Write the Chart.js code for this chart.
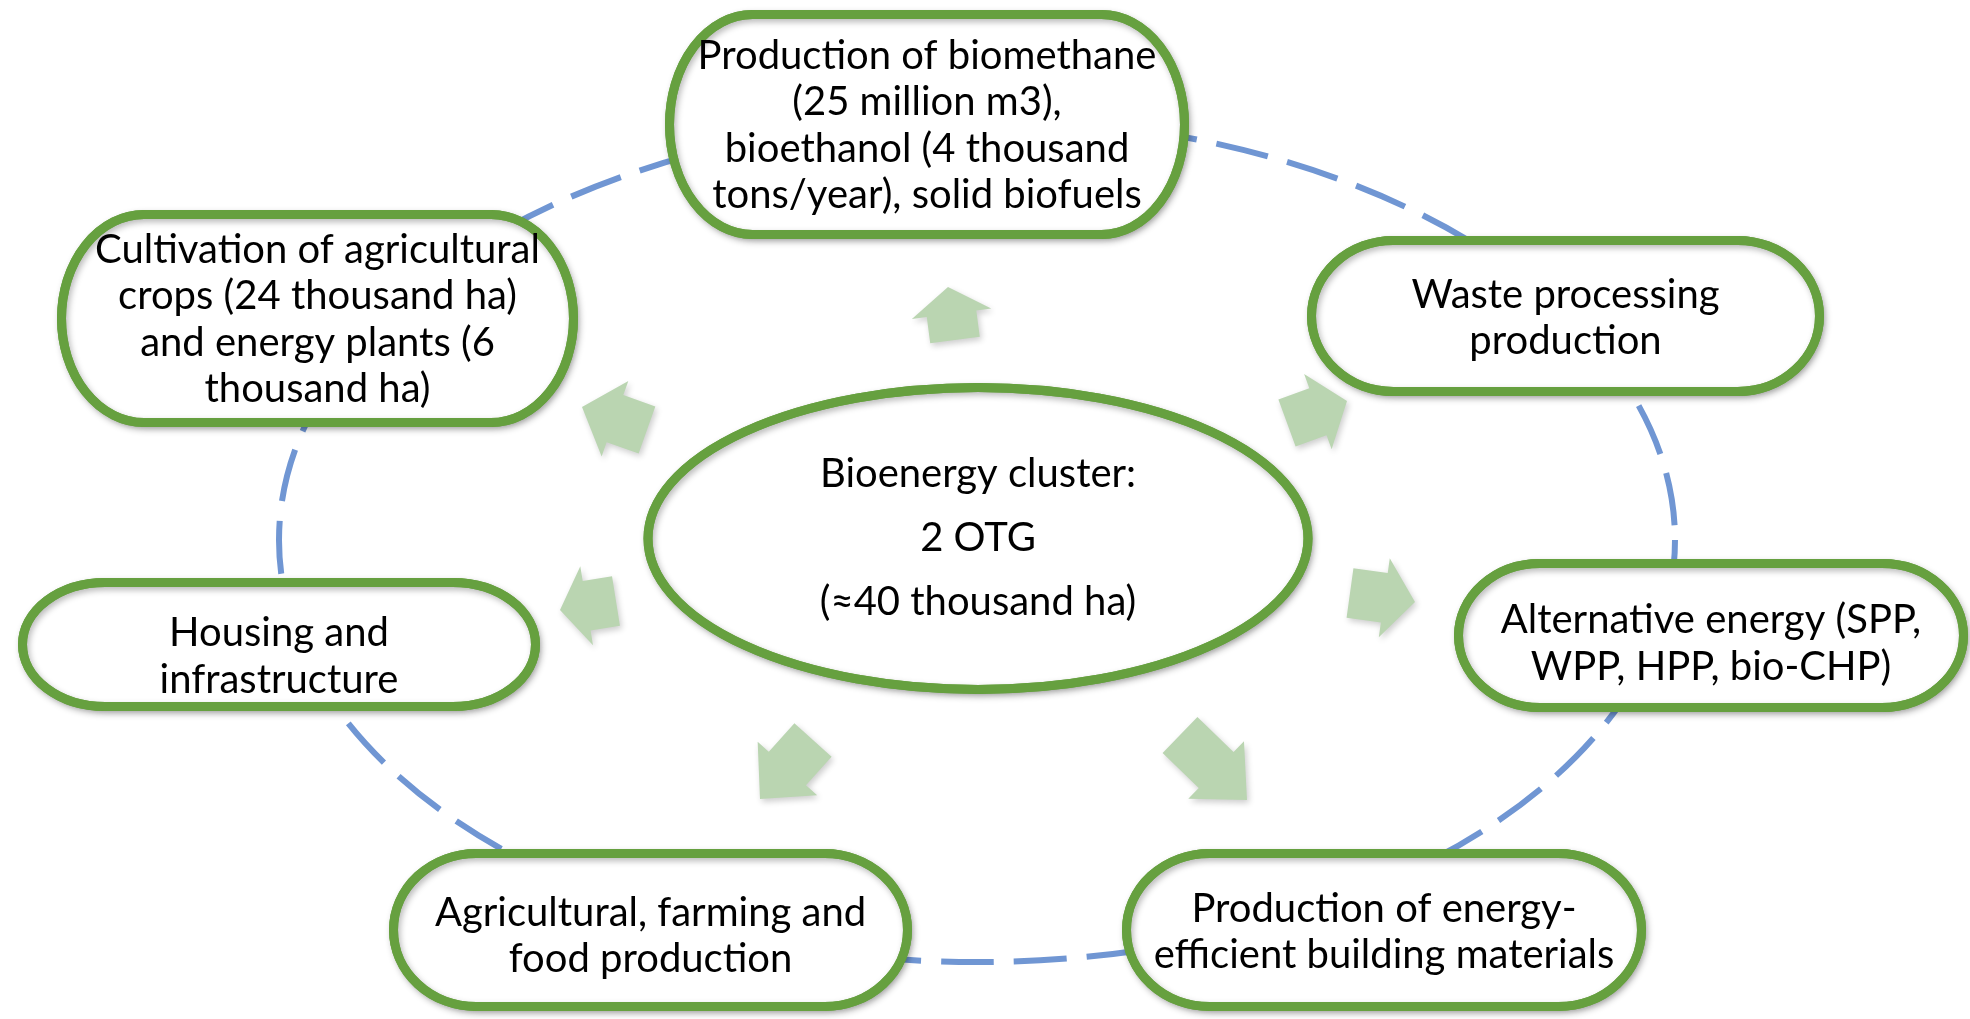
<!DOCTYPE html>
<html lang="en">
<head>
<meta charset="UTF-8">
<title>Bioenergy cluster</title>
<script src="https://cdn.jsdelivr.net/npm/chart.js"></script>
<style>
    html, body { margin: 0; padding: 0; background: #fff; }
    canvas { display: block; }
</style>
</head>
<body>
<canvas id="cluster" width="1970" height="1019"></canvas>

<script>
    // node texts
    const nodeLabels = [
        ['Production of biomethane', '(25 million m3),', 'bioethanol (4 thousand', 'tons/year), solid biofuels'],
        ['Cultivation of agricultural', 'crops (24 thousand ha)', 'and energy plants (6', 'thousand ha)'],
        ['Waste processing', 'production'],
        ['Housing and', 'infrastructure'],
        ['Alternative energy (SPP,', 'WPP, HPP, bio-CHP)'],
        ['Agricultural, farming and', 'food production'],
        ['Production of energy-', 'efficient building materials']
    ];
    const hubLabels = ['Bioenergy cluster:', '2 OTG', '(≈40 thousand ha)'];

    // node centres (diagram units)
    const nodeX = [927, 317.5, 1565.5, 279, 1711, 650.5, 1384];
    const nodeY = [124.5, 318.5, 316, 644.5, 635.5, 930, 930];
    const hubX = [978];
    const hubY = [538.5];

    // arrows: tip and tail points
    const arrowTipX = [948, 582, 1347, 560, 1415, 760, 1247];
    const arrowTipY = [287, 407, 401, 610, 602, 799, 800];
    const arrowTailX = [955, 647, 1287, 616, 1350, 813, 1180];
    const arrowTailY = [340, 430, 423, 601, 593, 740, 735];

    // layout (sizes, text nudges)
    const nodeW = [515, 512, 508, 513, 505, 514, 515];
    const nodeH = [220, 208, 151, 124, 144, 153, 153];
    const textShift = [1, 1, 2, 12, 8, 6, 2];
    const arrowHeadLen = [27, 35, 31, 27, 31, 41, 43];
    const ring = { cx: 977, cy: 540, rx: 698, ry: 422 };
    const hubR = { rx: 330, ry: 151 };

    const GREEN = '#66a03f';
    const BLUE = '#7096d3';
    const ARROW = '#bad5b1';
    const FONT = '40px Lato';

    function terminator(ctx, cx, cy, w, h) {
        const rx = w * 0.161, ry = h / 2;
        const l = cx - w / 2, r = cx + w / 2, t = cy - h / 2, b = cy + h / 2;
        ctx.beginPath();
        ctx.moveTo(l + rx, t);
        ctx.lineTo(r - rx, t);
        ctx.ellipse(r - rx, cy, rx, ry, 0, -Math.PI / 2, Math.PI / 2);
        ctx.lineTo(l + rx, b);
        ctx.ellipse(l + rx, cy, rx, ry, 0, Math.PI / 2, Math.PI * 1.5);
        ctx.closePath();
    }

    function blockArrow(ctx, tx, ty, bx, by, headLen) {
        const len = Math.hypot(tx - bx, ty - by);
        const ang = Math.atan2(ty - by, tx - bx);
        const headHalf = 40, bodyHalf = 25;
        ctx.save();
        ctx.translate(bx, by);
        ctx.rotate(ang);
        ctx.beginPath();
        ctx.moveTo(0, -bodyHalf);
        ctx.lineTo(len - headLen, -bodyHalf);
        ctx.lineTo(len - headLen, -headHalf);
        ctx.lineTo(len, 0);
        ctx.lineTo(len - headLen, headHalf);
        ctx.lineTo(len - headLen, bodyHalf);
        ctx.lineTo(0, bodyHalf);
        ctx.closePath();
        ctx.fill();
        ctx.restore();
    }

    function shadowOn(ctx) {
        ctx.shadowColor = 'rgba(0,0,0,0.28)';
        ctx.shadowBlur = 6;
        ctx.shadowOffsetX = 2;
        ctx.shadowOffsetY = 3;
    }
    function shadowOff(ctx) {
        ctx.shadowColor = 'transparent';
        ctx.shadowBlur = 0;
        ctx.shadowOffsetX = 0;
        ctx.shadowOffsetY = 0;
    }

    const diagramPlugin = {
        id: 'diagram',
        afterDatasetsDraw(chart) {
            const ctx = chart.ctx;
            const xs = chart.scales.x, ys = chart.scales.y;
            const px = v => xs.getPixelForValue(v);
            const py = v => ys.getPixelForValue(v);
            const sx = v => Math.abs(xs.getPixelForValue(v) - xs.getPixelForValue(0));
            const sy = v => Math.abs(ys.getPixelForValue(v) - ys.getPixelForValue(0));

            ctx.save();

            // dashed ring
            ctx.strokeStyle = BLUE;
            ctx.lineWidth = 6;
            ctx.setLineDash([53, 20]);
            ctx.lineDashOffset = 0;
            ctx.beginPath();
            ctx.ellipse(px(ring.cx), py(ring.cy), sx(ring.rx), sy(ring.ry), 0, 0, Math.PI * 2);
            ctx.stroke();
            ctx.setLineDash([]);

            // outer nodes
            ctx.lineWidth = 9;
            ctx.strokeStyle = GREEN;
            ctx.fillStyle = '#fff';
            nodeX.forEach((x, i) => {
                terminator(ctx, px(x), py(nodeY[i]), sx(nodeW[i]), sy(nodeH[i]));
                shadowOn(ctx);
                ctx.fill();
                ctx.stroke();
                shadowOff(ctx);
                ctx.stroke();
            });

            // hub
            ctx.beginPath();
            ctx.ellipse(px(hubX[0]), py(hubY[0]), sx(hubR.rx), sy(hubR.ry), 0, 0, Math.PI * 2);
            shadowOn(ctx);
            ctx.fill();
            ctx.stroke();
            shadowOff(ctx);
            ctx.stroke();

            // text
            ctx.fillStyle = '#000';
            ctx.font = FONT;
            ctx.textAlign = 'center';
            ctx.textBaseline = 'middle';
            nodeLabels.forEach((lines, i) => {
                const step = 46.5;
                const top = py(nodeY[i]) + textShift[i] - step * (lines.length - 1) / 2;
                lines.forEach((t, k) => ctx.fillText(t, px(nodeX[i]), top + k * step));
            });
            hubLabels.forEach((t, k) => ctx.fillText(t, px(hubX[0]), py(hubY[0]) - 64 + k * 64));

            // arrows
            ctx.fillStyle = ARROW;
            shadowOn(ctx);
            ctx.shadowColor = 'rgba(0,0,0,0.2)';
            arrowTipX.forEach((x, i) => {
                blockArrow(ctx, px(x), py(arrowTipY[i]), px(arrowTailX[i]), py(arrowTailY[i]), sx(arrowHeadLen[i]));
            });
            shadowOff(ctx);

            ctx.restore();
        }
    };

    new Chart(document.getElementById('cluster'), {
        type: 'scatter',
        data: {
            datasets: [
                { label: 'nodes', data: nodeX.map((x, i) => ({ x: x, y: nodeY[i] })), pointRadius: 0 },
                { label: 'hub', data: hubX.map((x, i) => ({ x: x, y: hubY[i] })), pointRadius: 0 },
                { label: 'arrows', data: arrowTipX.map((x, i) => ({ x: x, y: arrowTipY[i] })), pointRadius: 0 }
            ]
        },
        options: {
            responsive: false,
            animation: false,
            devicePixelRatio: 1,
            layout: { padding: 0 },
            plugins: { legend: { display: false }, tooltip: { enabled: false } },
            scales: {
                x: { type: 'linear', min: 0, max: 1970, display: false },
                y: { type: 'linear', min: 0, max: 1019, reverse: true, display: false }
            }
        },
        plugins: [diagramPlugin]
    });
</script>
</body>
</html>
